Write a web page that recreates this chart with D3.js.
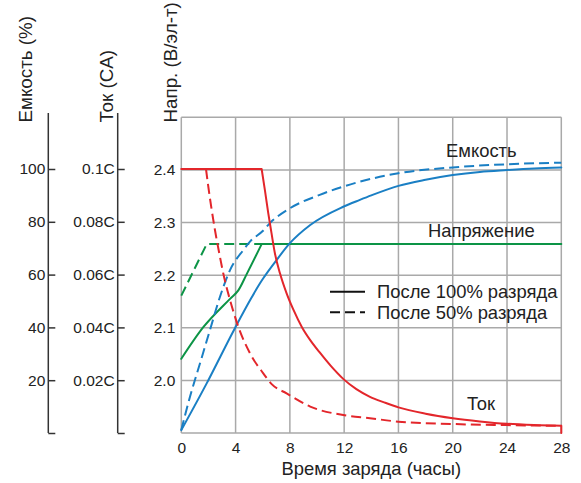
<!DOCTYPE html>
<html>
<head>
<meta charset="utf-8">
<script src="https://cdn.jsdelivr.net/npm/d3@7"></script>
<style>
  html, body { margin: 0; padding: 0; background: #fff; }
  svg { display: block; font-family: "Liberation Sans", Arial, sans-serif; }
</style>
</head>
<body>
<svg id="chart" width="581" height="483"></svg>
<script>
// ---------------- DATA ----------------
const hourTicks = [0, 4, 8, 12, 16, 20, 24, 28];
const voltTicks = [2.0, 2.1, 2.2, 2.3, 2.4];
const capTicks = [0, 20, 40, 60, 80, 100];
const curTicks = [0, 0.02, 0.04, 0.06, 0.08, 0.1];
const curTickLabels = ["", "0.02C", "0.04C", "0.06C", "0.08C", "0.1C"];

// Current (CA) after 100% discharge
const cur100Hours = [0, 5.92, 6.16, 6.41, 6.65, 6.9, 7.27, 7.76, 8.25, 8.9, 9.5, 10.2, 11.0, 11.93, 12.9, 13.9, 15, 16, 18, 20, 22, 24, 26, 28, 28];
const cur100Vals  = [0.1, 0.1, 0.092, 0.0832, 0.0756, 0.068, 0.0605, 0.0529, 0.0468, 0.040, 0.0352, 0.0305, 0.0255, 0.0205, 0.0166, 0.0137, 0.0115, 0.0097, 0.0073, 0.0056, 0.0044, 0.0035, 0.003, 0.0027, 0];
// Current (CA) after 50% discharge
const cur50Hours = [0, 1.82, 1.99, 2.24, 2.48, 2.8, 3.09, 3.59, 4.2, 5.06, 6.04, 6.66, 7.76, 9.5, 11.93, 13.9, 16, 20, 24, 28];
const cur50Vals  = [0.1, 0.1, 0.0933, 0.0845, 0.0769, 0.068, 0.0605, 0.0504, 0.0403, 0.0302, 0.0226, 0.0185, 0.015, 0.010, 0.0068, 0.0056, 0.0043, 0.0034, 0.003, 0.0027];

// Voltage (V/cell)
const volt100Hours = [0, 1.62, 3.59, 4.2, 4.82, 5.92, 28];
const volt100Vals  = [2.041, 2.101, 2.155, 2.171, 2.202, 2.259, 2.259];
const volt50Hours = [0, 1.87, 28];
const volt50Vals  = [2.161, 2.259, 2.259];

// Capacity (%)
const cap100Hours = [0, 1.87, 3.95, 5.2, 5.8, 6.04, 7.02, 8.0, 9.5, 11.93, 13.16, 14, 16, 18, 20, 22, 24, 26, 28];
const cap100Vals  = [1.1, 18.8, 39.7, 51.5, 56.7, 58.6, 65.5, 71.9, 78.8, 85.7, 88.3, 90, 93.6, 95.9, 97.7, 98.9, 99.6, 100.2, 100.6];
const cap50Hours = [0, 0.64, 1.38, 2.11, 2.85, 3.59, 4.57, 5.06, 6.0, 6.53, 8.0, 10.2, 13.16, 16, 20, 24, 28];
const cap50Vals  = [1.1, 13.75, 26.4, 39.0, 51.6, 61.7, 69.3, 72.5, 76.5, 79.5, 85.1, 90.2, 95.2, 98.4, 100.6, 101.8, 102.4];

const labels = { cap: "Емкость", volt: "Напряжение", cur: "Ток" };
const legendLabels = ["После 100% разряда", "После 50% разряда"];
const axisTitles = ["Емкость (%)", "Ток (CA)", "Напр. (В/эл-т)"];
const xTitle = "Время заряда (часы)";

// ---------------- LAYOUT ----------------
const svg = d3.select("#chart");
const L = 181.3, R = 561.3, T = 117.3, B = 433;
const red = "#e3262b", green = "#0c9446", blue = "#1a7fc4";
const gridCol = "#a9a9a9", axisCol = "#333";
const tickFont = 15.5, labFont = 18.4, titleFont = 18.8;

const x = d3.scaleLinear().domain([0, 28]).range([L, R]);
const yV = d3.scaleLinear().domain([1.9, 2.5]).range([B, T]);
const yC = d3.scaleLinear().domain([0, 100]).range([B, 169]);
const yI = d3.scaleLinear().domain([0, 0.1]).range([B, 169]);

// grid
const grid = svg.append("g");
grid.selectAll("line.v").data(hourTicks).join("line")
  .attr("x1", d => x(d)).attr("x2", d => x(d)).attr("y1", T).attr("y2", B)
  .attr("stroke", gridCol).attr("stroke-width", 1.5);
grid.selectAll("line.h").data(voltTicks.concat([2.5])).join("line")
  .attr("x1", L).attr("x2", R).attr("y1", d => yV(d)).attr("y2", d => yV(d))
  .attr("stroke", gridCol).attr("stroke-width", 1.5);
grid.append("line").attr("x1", L).attr("x2", R).attr("y1", B).attr("y2", B)
  .attr("stroke", gridCol).attr("stroke-width", 1.5);

// voltage axis labels
const vAxis = svg.append("g").attr("transform", `translate(${L},0)`)
  .call(d3.axisLeft(yV).tickValues(voltTicks).tickFormat(d3.format(".1f")).tickSize(0).tickPadding(6));
vAxis.select(".domain").remove();

// x axis labels
const xAxis = svg.append("g").attr("transform", `translate(0,${B})`)
  .call(d3.axisBottom(x).tickValues(hourTicks).tickFormat(d3.format("d")).tickSize(0).tickPadding(9));
xAxis.select(".domain").remove();

// capacity axis
const capX = 48.3;
const cAxis = svg.append("g").attr("transform", `translate(${capX},0)`)
  .call(d3.axisLeft(yC).tickValues(capTicks).tickFormat(d => d === 0 ? "" : d).tickSizeInner(-7).tickSizeOuter(0).tickPadding(3));
cAxis.select(".domain").remove();
cAxis.append("line").attr("x1", 0).attr("x2", 0).attr("y1", 113).attr("y2", B)
  .attr("stroke", axisCol).attr("stroke-width", 1.5);

// current axis
const curX = 117.7;
const iAxis = svg.append("g").attr("transform", `translate(${curX},0)`)
  .call(d3.axisLeft(yI).tickValues(curTicks).tickFormat((d, i) => curTickLabels[i]).tickSizeInner(-7).tickSizeOuter(0).tickPadding(3));
iAxis.select(".domain").remove();
iAxis.append("line").attr("x1", 0).attr("x2", 0).attr("y1", 113).attr("y2", B)
  .attr("stroke", axisCol).attr("stroke-width", 1.5);

svg.selectAll(".tick line").filter(function () { return d3.select(this).attr("x2") == 7; })
  .attr("stroke", axisCol).attr("stroke-width", 1.5);
svg.selectAll(".tick text").attr("font-size", tickFont).attr("fill", "#222")
  .attr("font-family", '"Liberation Sans", Arial, sans-serif');

// axis titles (rotated)
const titleX = [32, 112.5, 176.5];
axisTitles.forEach((t, i) => {
  svg.append("text").attr("transform", `translate(${titleX[i]},122.5) rotate(-90)`)
    .attr("text-anchor", "start").attr("font-size", titleFont).attr("fill", "#222").text(t);
});
svg.append("text").attr("x", (L + R) / 2).attr("y", 475).attr("text-anchor", "middle")
  .attr("font-size", labFont).attr("fill", "#222").text(xTitle);

// ---------------- CURVES ----------------
// segments: [startIndex, endIndex, curve]
function drawSeries(hours, vals, yScale, color, dashed, segs) {
  const pts = hours.map((h, i) => [h, vals[i]]);
  let d = "";
  segs.forEach(([a, b, c]) => {
    const line = d3.line().x(p => x(p[0])).y(p => yScale(p[1])).curve(c);
    d += line(pts.slice(a, b + 1));
  });
  svg.append("path").attr("d", d).attr("fill", "none")
    .attr("stroke", color).attr("stroke-width", 2)
    .attr("stroke-linejoin", "round").attr("stroke-linecap", dashed ? "butt" : "round")
    .attr("stroke-dasharray", dashed ? "10,5" : null);
}
const lin = d3.curveLinear, mono = d3.curveMonotoneX;
drawSeries(volt50Hours, volt50Vals, yV, green, true, [[0, 2, lin]]);
drawSeries(volt100Hours, volt100Vals, yV, green, false, [[0, 5, mono], [5, 6, lin]]);
drawSeries(cap50Hours, cap50Vals, yC, blue, true, [[0, cap50Hours.length - 1, mono]]);
drawSeries(cap100Hours, cap100Vals, yC, blue, false, [[0, cap100Hours.length - 1, mono]]);
drawSeries(cur50Hours, cur50Vals, yI, red, true, [[0, 1, lin], [1, cur50Hours.length - 1, mono]]);
drawSeries(cur100Hours, cur100Vals, yI, red, false,
  [[0, 1, lin], [1, cur100Hours.length - 2, mono], [cur100Hours.length - 2, cur100Hours.length - 1, lin]]);

// curve labels
svg.append("text").attr("x", 446).attr("y", 157).attr("font-size", labFont).attr("fill", "#222").text(labels.cap);
svg.append("text").attr("x", 428).attr("y", 237).attr("font-size", labFont).attr("fill", "#222").text(labels.volt);
svg.append("text").attr("x", 467).attr("y", 410).attr("font-size", labFont).attr("fill", "#222").text(labels.cur);

// legend
const legY = [291.7, 312.3];
legendLabels.forEach((t, i) => {
  svg.append("line").attr("x1", 330).attr("x2", 365).attr("y1", legY[i]).attr("y2", legY[i])
    .attr("stroke", "#111").attr("stroke-width", 2)
    .attr("stroke-dasharray", i === 1 ? "10,5" : null);
  svg.append("text").attr("x", 377).attr("y", legY[i] + 6.5).attr("font-size", labFont)
    .attr("fill", "#222").text(t);
});
</script>
</body>
</html>
